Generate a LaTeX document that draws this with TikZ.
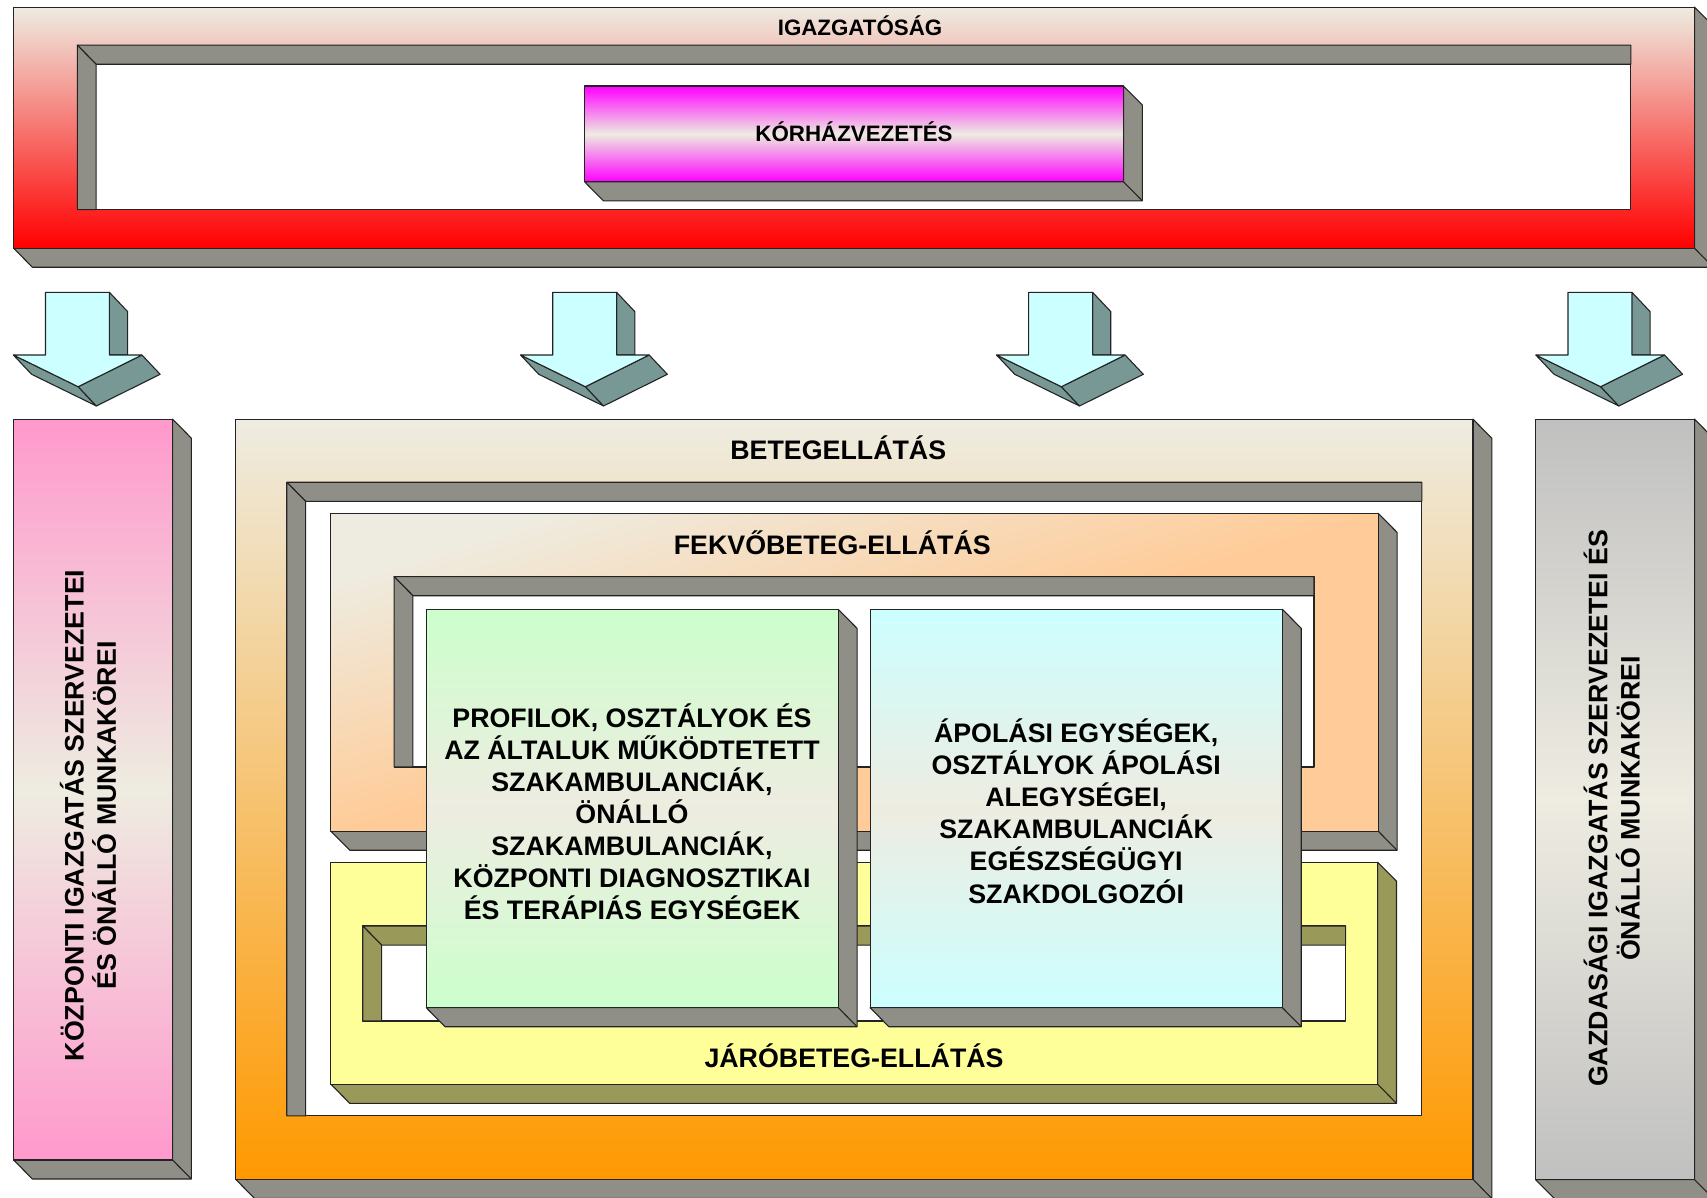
\documentclass[tikz,border=0pt]{standalone}
\usepackage{fontspec}
\setmainfont{Liberation Sans}
\definecolor{ivory}{RGB}{238,236,225}
\definecolor{extgray}{RGB}{144,143,135}
\definecolor{arrface}{RGB}{204,255,255}
\definecolor{arrext}{RGB}{120,152,150}
\definecolor{olivext}{RGB}{153,153,90}
\definecolor{paleyellow}{RGB}{255,255,153}
\definecolor{peach}{RGB}{255,204,153}
\definecolor{deeporange}{RGB}{255,153,0}
\definecolor{pureRed}{RGB}{255,0,0}
\definecolor{pinkbox}{RGB}{255,153,204}
\definecolor{silverbox}{RGB}{192,192,192}
\definecolor{mintbox}{RGB}{204,255,204}
\definecolor{aquabox}{RGB}{204,255,255}
\definecolor{magentabox}{RGB}{255,0,255}
\definecolor{edgecol}{RGB}{35,35,35}
\def\DX{17.3}
\def\DY{17.5}
\tikzset{
  outl/.style={draw=edgecol, line width=0.5pt, line join=round},
  lbl/.style={inner sep=0pt, font=\bfseries\fontsize{12.3}{14.75}\selectfont},
  lblsmall/.style={inner sep=0pt, font=\bfseries\fontsize{10.25}{12}\selectfont},
  arrowext/.style={outl, fill=arrext},
  arrowface/.style={outl, fill=arrface}
}
% extrusion on right and bottom: x1,y1,x2,y2,colour
\newcommand{\extr}[5]{%
  \filldraw[outl, fill=#5] (#3,#2) -- (#3+\DX,#2+\DY) -- (#3+\DX,#4+\DY) -- (#1+\DX,#4+\DY) -- (#1,#4) -- (#3,#4) -- cycle;
  \draw[outl] (#3,#4) -- (#3+\DX,#4+\DY);}
% hole with inner walls: h1,k1,h2,k2,colour
\newcommand{\holewalls}[5]{%
  \filldraw[outl, fill=white] (#1,#2) rectangle (#3,#4);
  \filldraw[outl, fill=#5] (#1,#2) -- (#3,#2) -- (#3,#2+\DY) -- (#1+\DX,#2+\DY) -- cycle;
  \filldraw[outl, fill=#5] (#1,#2) -- (#1+\DX,#2+\DY) -- (#1+\DX,#4) -- (#1,#4) -- cycle;}
% 3D down arrow: x0,y0 = top left of shaft
\newcommand{\arrowdown}[2]{%
  \filldraw[arrowext] (#1+58.7,#2) -- (#1+58.7+16.7,#2+17.7) -- (#1+58.7+16.7,#2+57.6) -- (#1+58.7,#2+57.6) -- cycle;
  \filldraw[arrowext] (#1-29.5,#2+57.6) -- (#1-29.5+16.7,#2+57.6+17.7) -- (#1+30+16.7,#2+86.7+17.7) -- (#1+30,#2+86.7) -- cycle;
  \filldraw[arrowext] (#1+30,#2+86.7) -- (#1+30+16.7,#2+86.7+17.7) -- (#1+88.6+16.7,#2+57.6+17.7) -- (#1+88.6,#2+57.6) -- cycle;
  \filldraw[arrowface] (#1,#2) -- (#1+58.7,#2) -- (#1+58.7,#2+57.6) -- (#1+88.6,#2+57.6) -- (#1+30,#2+86.7) -- (#1-29.5,#2+57.6) -- (#1,#2+57.6) -- cycle;}
\begin{document}
\begin{tikzpicture}[x=0.5pt,y=-0.5pt]
\useasboundingbox (0,0) rectangle (1568,1100);
\fill[white] (0,0) rectangle (1568,1100);

% IGAZGATOSAG frame
\extr{12.5}{6.5}{1556.5}{228}{extgray}
\path[shade, top color=ivory, bottom color=pureRed, outl] (12.5,6.5) rectangle (1556.5,228);
\holewalls{71}{41.5}{1498}{192.5}{extgray}
% KORHAZVEZETES box
\extr{537}{79}{1032}{167}{extgray}
\path[shade, top color=magentabox, bottom color=magentabox, middle color=ivory, outl] (537,79) rectangle (1032,167);

% arrows
\arrowdown{41.8}{268.5}
\arrowdown{507.7}{268.5}
\arrowdown{944.9}{268.5}
\arrowdown{1440.3}{268.5}

% side boxes
\extr{12.5}{385}{158.5}{1065.5}{extgray}
\path[shade, top color=pinkbox, bottom color=pinkbox, middle color=ivory, outl] (12.5,385) rectangle (158.5,1065.5);
\extr{1410.5}{385}{1556.5}{1083.5}{extgray}
\path[shade, top color=silverbox, bottom color=silverbox, middle color=ivory, outl] (1410.5,385) rectangle (1556.5,1083.5);

% BETEGELLATAS frame
\extr{216.5}{385}{1353}{1083.3}{extgray}
\path[shade, top color=ivory, bottom color=deeporange, outl] (216.5,385) rectangle (1353,1083.3);
\holewalls{263.5}{443}{1306}{1025}{extgray}

% FEKVOBETEG frame
\extr{304}{471.5}{1266}{763.5}{extgray}
\path[shade, top color=ivory, bottom color=peach, middle color=peach, shading angle=17, outl] (304,471.5) rectangle (1266,763.5);
\holewalls{362}{529.7}{1207}{704.5}{extgray}

% JAROBETEG frame
\extr{304}{792}{1265.5}{996}{olivext}
\filldraw[outl, fill=paleyellow] (304,792) rectangle (1265.5,996);
\holewalls{333.3}{850.6}{1236}{937.8}{olivext}

% inner boxes
\extr{391.5}{559.7}{770}{925.6}{extgray}
\path[shade, top color=mintbox, bottom color=mintbox, middle color=ivory, outl] (391.5,559.7) rectangle (770,925.6);
\extr{799.2}{559.7}{1178}{925.6}{extgray}
\path[shade, top color=aquabox, bottom color=aquabox, middle color=ivory, outl] (799.2,559.7) rectangle (1178,925.6);

% texts
\node[lblsmall] (igaz) at (790,23.8) {IGAZGATÓSÁG};
\node[lblsmall] (korhaz) at (784.5,120.8) {KÓRHÁZVEZETÉS};
\node[lbl] (beteg) at (770,411) {BETEGELLÁTÁS};
\node[lbl] (fekvo) at (764.5,498.5) {FEKVŐBETEG-ELLÁTÁS};
\node[lbl] (jaro) at (784.5,969.5) {JÁRÓBETEG-ELLÁTÁS};
\node[lbl, align=center] (profil) at (580.5,745.5) {PROFILOK, OSZTÁLYOK ÉS\\AZ ÁLTALUK MŰKÖDTETETT\\SZAKAMBULANCIÁK,\\ÖNÁLLÓ\\SZAKAMBULANCIÁK,\\KÖZPONTI DIAGNOSZTIKAI\\ÉS TERÁPIÁS EGYSÉGEK};
\node[lbl, align=center] (apol) at (988.5,745) {ÁPOLÁSI EGYSÉGEK,\\OSZTÁLYOK ÁPOLÁSI\\ALEGYSÉGEI,\\SZAKAMBULANCIÁK\\EGÉSZSÉGÜGYI\\SZAKDOLGOZÓI};
\node[lbl, align=center, rotate=90] (kozp) at (80.8,749) {KÖZPONTI IGAZGATÁS SZERVEZETEI\\ÉS ÖNÁLLÓ MUNKAKÖREI};
\node[lbl, align=center, rotate=90] (gazd) at (1480.5,742.5) {GAZDASÁGI IGAZGATÁS SZERVEZETEI ÉS\\ÖNÁLLÓ MUNKAKÖREI};
\end{tikzpicture}
\end{document}
